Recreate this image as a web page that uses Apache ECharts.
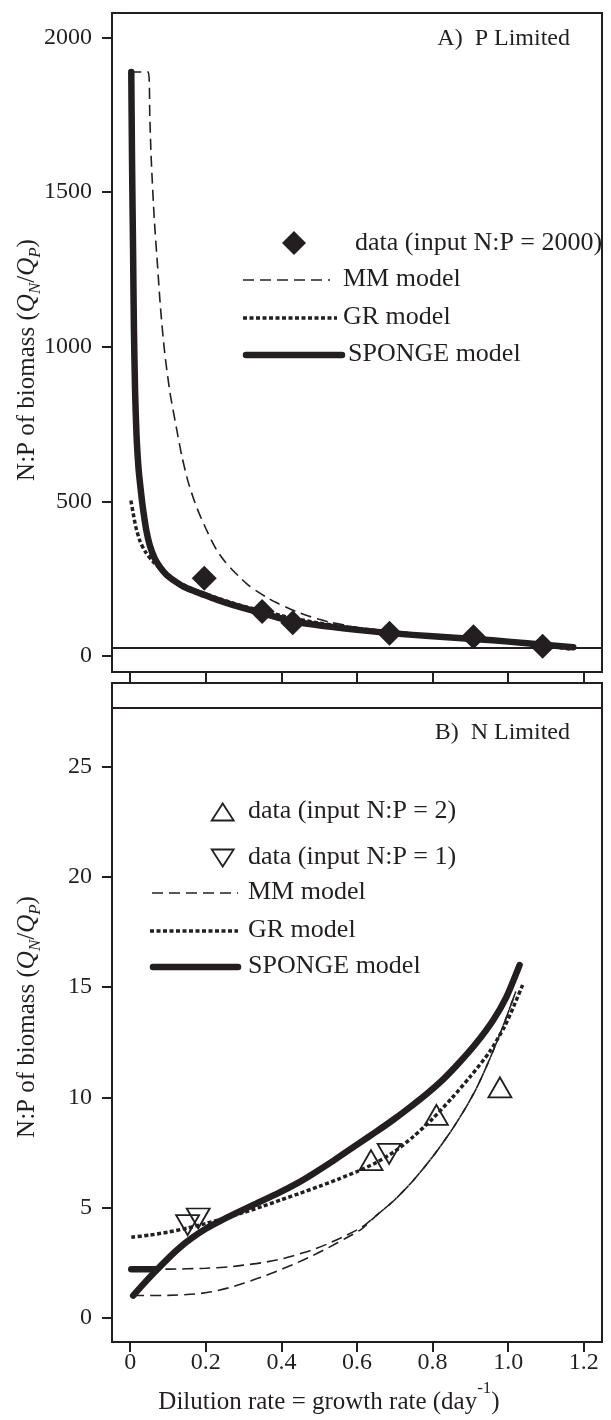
<!DOCTYPE html>
<html>
<head>
<meta charset="utf-8">
<script src="https://cdn.jsdelivr.net/npm/echarts@6/dist/echarts.min.js"></script>
<style>
  html, body { margin: 0; padding: 0; background: #fff; }
  #chart { width: 611px; height: 1420px; }
</style>
</head>
<body>
<div id="chart"></div>
<script>
// ---- Axis limits and ticks -------------------------------------------------
const xLim = [0, 1.2];
const pLim = [27.7, 2000];      // panel A (P limited) y range
const nLim = [0, 27.7];         // panel B (N limited) y range
const breakValue = 27.7;        // level where the y axis is broken between panels
const xTicks = [0, 0.2, 0.4, 0.6, 0.8, 1.0, 1.2];
const xTickLabels = ['0', '0.2', '0.4', '0.6', '0.8', '1.0', '1.2'];
const pTicks = [0, 500, 1000, 1500, 2000];
const nTicks = [0, 5, 10, 15, 20, 25];

// ---- Panel A: P limited (input N:P = 2000) ---------------------------------
const pDataX = [0.196, 0.349, 0.43, 0.686, 0.908, 1.091];
const pDataY = [252, 144, 108, 74, 63, 32];

const pMM = [[0, 1888], [0.048, 1888], [0.052, 1740], [0.056, 1600], [0.064, 1410],
  [0.072, 1270], [0.08, 1130], [0.091, 985], [0.105, 855], [0.122, 740], [0.137, 645],
  [0.153, 565], [0.168, 508], [0.183, 460], [0.205, 400], [0.228, 345], [0.25, 307],
  [0.272, 277], [0.295, 249], [0.316, 226], [0.34, 206], [0.36, 191], [0.385, 174],
  [0.413, 158], [0.44, 144], [0.466, 132], [0.5, 119], [0.528, 110], [0.6, 93],
  [0.7, 77], [0.8, 66], [0.9, 56], [1.0, 47], [1.1, 37], [1.165, 27]];

const pGR = [[0.002, 503], [0.008, 462], [0.015, 418], [0.026, 372], [0.04, 338],
  [0.061, 305], [0.08, 281], [0.1, 260], [0.123, 242], [0.16, 220], [0.196, 203],
  [0.235, 186], [0.273, 171], [0.31, 158], [0.35, 146], [0.4, 131], [0.45, 118],
  [0.5, 107], [0.6, 90], [0.7, 77], [0.8, 66], [0.9, 56], [1.0, 46], [1.1, 33], [1.17, 22]];

const pSponge = [[0.003, 1888], [0.005, 1600], [0.008, 1280], [0.01, 1060], [0.013, 860],
  [0.017, 710], [0.022, 610], [0.026, 560], [0.031, 505], [0.035, 468], [0.043, 405],
  [0.0525, 356], [0.065, 316], [0.08, 286], [0.097, 262], [0.12, 241], [0.141, 225],
  [0.17, 210], [0.196, 198], [0.235, 180], [0.273, 165], [0.31, 152], [0.35, 139],
  [0.39, 125], [0.43, 113], [0.48, 103], [0.537, 94], [0.6, 85], [0.693, 74], [0.8, 64],
  [0.917, 55], [1.0, 47], [1.1, 36], [1.172, 29]];

// ---- Panel B: N limited (input N:P = 2 and 1) ------------------------------
const nUpX = [0.637, 0.81, 0.978];     // input N:P = 2
const nUpY = [7.15, 9.2, 10.45];
const nDownX = [0.152, 0.18, 0.685];   // input N:P = 1
const nDownY = [4.2, 4.5, 7.43];

const nMMHighHead = [[0.003, 2.2], [0.1, 2.2], [0.2, 2.24], [0.26, 2.3], [0.3, 2.38],
  [0.348, 2.49], [0.4, 2.66], [0.436, 2.83], [0.48, 3.06], [0.524, 3.36], [0.57, 3.72], [0.612, 4.1]];
const nMMLowHead = [[0.008, 1.0], [0.1, 1.01], [0.171, 1.07], [0.215, 1.17], [0.26, 1.35],
  [0.3, 1.56], [0.348, 1.84], [0.39, 2.12], [0.436, 2.45], [0.48, 2.79], [0.524, 3.17], [0.57, 3.6], [0.612, 4.02]];
const nMMTail = [[0.65, 4.62], [0.7, 5.35], [0.75, 6.25], [0.8, 7.3], [0.85, 8.5], [0.89, 9.6],
  [0.92, 10.55], [0.955, 11.9], [0.99, 13.4], [1.02, 14.8]];

const nGR = [[0.003, 3.65], [0.05, 3.74], [0.1, 3.88], [0.15, 4.06], [0.2, 4.27], [0.25, 4.51],
  [0.3, 4.77], [0.35, 5.05], [0.4, 5.35], [0.45, 5.65], [0.5, 5.96], [0.55, 6.28], [0.6, 6.63],
  [0.65, 7.03], [0.7, 7.55], [0.75, 8.23], [0.8, 9.03], [0.85, 9.95], [0.9, 10.95], [0.95, 12.05],
  [0.99, 13.2], [1.015, 14.15], [1.038, 15.1]];

const nSpongeLow = [[0.008, 1.0], [0.035, 1.52], [0.065, 2.07], [0.1, 2.68], [0.13, 3.16],
  [0.16, 3.57], [0.2, 4.03], [0.24, 4.4], [0.28, 4.74], [0.33, 5.15], [0.393, 5.66],
  [0.44, 6.08], [0.481, 6.5], [0.54, 7.15], [0.604, 7.9], [0.65, 8.43], [0.695, 8.97],
  [0.74, 9.55], [0.784, 10.15], [0.83, 10.85], [0.872, 11.6], [0.915, 12.45], [0.96, 13.5],
  [0.995, 14.55], [1.03, 16.0]];
const nSpongeHigh = [[0.003, 2.2], [0.068, 2.2]];

// ---- Styling -----------------------------------------------------------------
const INK = '#231f20';
const FONT = '"Liberation Serif", "Times New Roman", serif';
const MM_STYLE = { color: INK, width: 1.6, type: [11, 6] };
const GR_STYLE = { color: INK, width: 3.5, type: [4, 2.5] };
const SPONGE_STYLE = { color: INK, width: 6.5, type: 'solid', cap: 'round', join: 'round' };

// R-style 4% padding of the plotting range
function padRange(lim) {
  const d = (lim[1] - lim[0]) * 0.04;
  return [lim[0] - d, lim[1] + d];
}
const xR = padRange(xLim), pR = padRange(pLim), nR = padRange(nLim);

function zip(xs, ys) { return xs.map((x, i) => [x, ys[i]]); }
function xLabel(v) {
  const i = xTicks.findIndex(t => Math.abs(t - v) < 1e-9);
  return i >= 0 ? xTickLabels[i] : '';
}

function curve(name, data, style, xi, extra) {
  return Object.assign({
    name, type: 'line', data, xAxisIndex: xi, yAxisIndex: xi,
    showSymbol: false, symbol: 'none', smooth: 0.25,
    lineStyle: style, silent: true, z: 2
  }, extra || {});
}
function breakLine() {
  return {
    silent: true, symbol: 'none', animation: false,
    label: { show: false },
    lineStyle: { color: INK, width: 2, type: 'solid' },
    data: [{ yAxis: breakValue }]
  };
}

const axisTickStyle = { show: true, inside: false, length: 10, lineStyle: { color: INK, width: 2 } };
const labelStyle = { color: INK, fontFamily: FONT, fontSize: 24 };
const noLine = { show: false, onZero: false };

const chart = echarts.init(document.getElementById('chart'), null, { renderer: 'canvas' });

// Legend pieces and titles
const txt = (text, x, y, size, align) => ({
  type: 'text', x, y, silent: true,
  style: { text, font: size + 'px ' + FONT, fill: INK, align: align || 'left', textAlign: align || 'left',
           verticalAlign: 'middle', textVerticalAlign: 'middle' }
});
const seg = (x1, x2, y, st) => ({
  type: 'line', silent: true, shape: { x1, y1: y, x2, y2: y },
  style: { stroke: INK, lineWidth: st.width, lineDash: Array.isArray(st.type) ? st.type : null, lineCap: st.cap || 'butt' }
});
const tri = (cx, cy, w, h, down) => ({
  type: 'polygon', silent: true,
  shape: { points: down
    ? [[cx - w / 2, cy - h / 2], [cx + w / 2, cy - h / 2], [cx, cy + h / 2]]
    : [[cx - w / 2, cy + h / 2], [cx + w / 2, cy + h / 2], [cx, cy - h / 2]] },
  style: { fill: 'none', stroke: INK, lineWidth: 1.8 }
});

const yTitleRich = {
  m: { fontFamily: FONT, fontSize: 25, lineHeight: 34, verticalAlign: 'middle', fill: INK },
  q: { fontFamily: FONT, fontSize: 25, fontStyle: 'italic', lineHeight: 34, verticalAlign: 'middle', fill: INK },
  s: { fontFamily: FONT, fontSize: 17, fontStyle: 'italic', verticalAlign: 'bottom', fill: INK }
};
const yTitle = (y) => ({
  type: 'text', x: 27, y, rotation: Math.PI / 2, silent: true,
  style: {
    text: '{m|N:P of biomass (}{q|Q}{s|N}{m|/}{q|Q}{s|P}{m|)}',
    rich: yTitleRich, align: 'center', textAlign: 'center', verticalAlign: 'middle', textVerticalAlign: 'middle'
  }
});

const option = {
  animation: false,
  backgroundColor: '#fff',
  grid: [
    { left: 112, top: 13, width: 490, height: 659, show: true, borderColor: INK, borderWidth: 2, backgroundColor: 'transparent' },
    { left: 112, top: 683, width: 490, height: 659, show: true, borderColor: INK, borderWidth: 2, backgroundColor: 'transparent' }
  ],
  xAxis: [
    { type: 'value', gridIndex: 0, min: xR[0], max: xR[1], position: 'bottom',
      axisLine: noLine, splitLine: { show: false },
      axisTick: Object.assign({ customValues: xTicks }, axisTickStyle),
      axisLabel: { show: false } },
    { type: 'value', gridIndex: 1, min: xR[0], max: xR[1], position: 'bottom',
      axisLine: noLine, splitLine: { show: false },
      axisTick: Object.assign({ customValues: xTicks }, axisTickStyle),
      axisLabel: Object.assign({ customValues: xTicks, formatter: xLabel, margin: 9 }, labelStyle) }
  ],
  yAxis: [
    { type: 'value', gridIndex: 0, min: pR[0], max: pR[1], position: 'left',
      axisLine: noLine, splitLine: { show: false },
      axisTick: Object.assign({ customValues: pTicks }, axisTickStyle),
      axisLabel: Object.assign({ customValues: pTicks, margin: 20, formatter: v => String(v) }, labelStyle) },
    { type: 'value', gridIndex: 1, min: nR[0], max: nR[1], position: 'left',
      axisLine: noLine, splitLine: { show: false },
      axisTick: Object.assign({ customValues: nTicks }, axisTickStyle),
      axisLabel: Object.assign({ customValues: nTicks, margin: 20, formatter: v => String(v) }, labelStyle) }
  ],
  series: [
    // Panel A
    curve('MM model', pMM, MM_STYLE, 0),
    curve('GR model', pGR, GR_STYLE, 0),
    curve('SPONGE model', pSponge, SPONGE_STYLE, 0, { markLine: breakLine() }),
    { name: 'data (input N:P = 2000)', type: 'scatter', xAxisIndex: 0, yAxisIndex: 0,
      data: zip(pDataX, pDataY), symbol: 'diamond', symbolSize: [25, 25],
      itemStyle: { color: INK, opacity: 1 }, silent: true, z: 5 },
    // Panel B
    curve('MM model (N:P = 2)', nMMHighHead.concat(nMMTail), MM_STYLE, 1),
    curve('MM model (N:P = 1)', nMMLowHead.concat(nMMTail), MM_STYLE, 1),
    curve('GR model', nGR, GR_STYLE, 1, { markLine: breakLine() }),
    curve('SPONGE model (N:P = 1)', nSpongeLow, SPONGE_STYLE, 1),
    curve('SPONGE model (N:P = 2)', nSpongeHigh, SPONGE_STYLE, 1, { smooth: false }),
    { name: 'data (input N:P = 2)', type: 'scatter', xAxisIndex: 1, yAxisIndex: 1,
      data: zip(nUpX, nUpY), symbol: 'triangle', symbolSize: [23, 20],
      itemStyle: { color: 'rgba(0,0,0,0)', borderColor: INK, borderWidth: 1.8, opacity: 1 }, silent: true, z: 5 },
    { name: 'data (input N:P = 1)', type: 'scatter', xAxisIndex: 1, yAxisIndex: 1,
      data: zip(nDownX, nDownY), symbol: 'triangle', symbolRotate: 180, symbolSize: [23, 20],
      itemStyle: { color: 'rgba(0,0,0,0)', borderColor: INK, borderWidth: 1.8, opacity: 1 }, silent: true, z: 5 }
  ],
  graphic: [
    // panel labels
    txt('A)  P Limited', 570, 39, 24, 'right'),
    txt('B)  N Limited', 570, 733, 24, 'right'),
    // panel A legend
    { type: 'polygon', silent: true, shape: { points: [[294, 231], [306, 243], [294, 255], [282, 243]] }, style: { fill: INK } },
    txt('data (input N:P = 2000)', 355, 243, 26),
    seg(243, 330, 280, MM_STYLE), txt('MM model', 343, 279, 26),
    seg(243, 337, 318, GR_STYLE), txt('GR model', 343, 317, 26),
    seg(246, 342, 355, SPONGE_STYLE), txt('SPONGE model', 348, 354, 26),
    // panel B legend
    tri(222.7, 812, 22, 17, false), txt('data (input N:P = 2)', 248, 811, 26),
    tri(222.7, 858, 22, 17, true), txt('data (input N:P = 1)', 248, 857, 26),
    seg(152, 238, 893, MM_STYLE), txt('MM model', 248, 892, 26),
    seg(150, 238, 931, GR_STYLE), txt('GR model', 248, 930, 26),
    seg(153, 238, 967, SPONGE_STYLE), txt('SPONGE model', 248, 966, 26),
    // axis titles
    yTitle(360),
    yTitle(1017),
    { type: 'text', x: 329, y: 1402, silent: true,
      style: {
        text: '{m|Dilution rate = growth rate (day}{s|-1}{m|)}',
        rich: {
          m: { fontFamily: FONT, fontSize: 25, lineHeight: 44, verticalAlign: 'middle', fill: INK },
          s: { fontFamily: FONT, fontSize: 17, verticalAlign: 'top', fill: INK }
        },
        align: 'center', textAlign: 'center', verticalAlign: 'middle', textVerticalAlign: 'middle'
      } }
  ]
};

chart.setOption(option);
</script>
</body>
</html>
